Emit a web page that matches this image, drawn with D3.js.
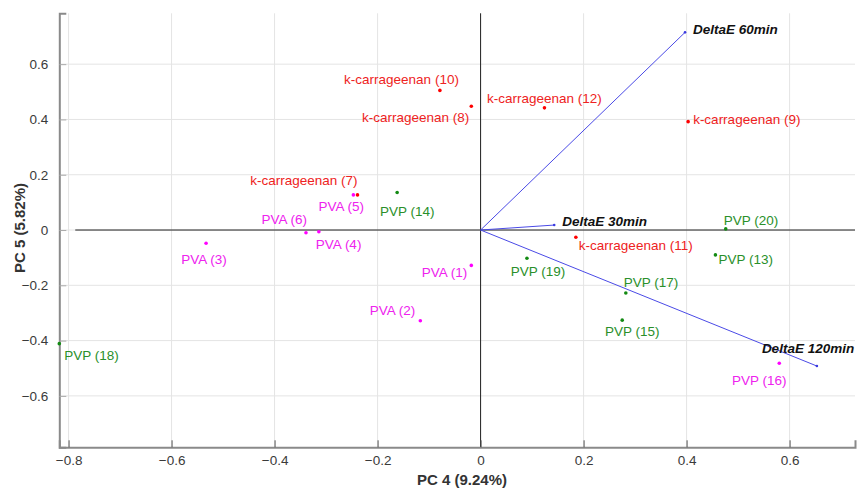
<!DOCTYPE html>
<html>
<head>
<meta charset="utf-8">
<script src="https://cdn.jsdelivr.net/npm/d3@7"></script>
<style>
	body { margin: 0; background: #fff; }
	svg { font-family: "Liberation Sans", Arial, sans-serif; }
</style>
</head>
<body>
<svg id="chart"></svg>
<script>
// samples: name, group, PC4, PC5
var names = ["PVA (1)", "PVA (2)", "PVA (3)", "PVA (4)", "PVA (5)", "PVA (6)",
	"k-carrageenan (7)", "k-carrageenan (8)", "k-carrageenan (9)", "k-carrageenan (10)",
	"k-carrageenan (11)", "k-carrageenan (12)",
	"PVP (13)", "PVP (14)", "PVP (15)", "PVP (16)", "PVP (17)", "PVP (18)", "PVP (19)", "PVP (20)"]
var groups = ["PVA", "PVA", "PVA", "PVA", "PVA", "PVA",
	"kc", "kc", "kc", "kc", "kc", "kc",
	"PVP", "PVP", "PVP", "PVA", "PVP", "PVP", "PVP", "PVP"]
var pc4 = [-0.018, -0.117, -0.533, -0.314, -0.247, -0.339,
	-0.239, -0.018, 0.403, -0.079, 0.185, 0.124,
	0.456, -0.162, 0.275, 0.580, 0.282, -0.818, 0.090, 0.476]
var pc5 = [-0.128, -0.328, -0.048, -0.006, 0.127, -0.010,
	0.127, 0.448, 0.392, 0.505, -0.026, 0.442,
	-0.090, 0.136, -0.326, -0.482, -0.228, -0.411, -0.102, 0.004]

// loadings
var vecNames = ["DeltaE 30min", "DeltaE 60min", "DeltaE 120min"]
var vecX = [0.143, 0.397, 0.653]
var vecY = [0.018, 0.715, -0.492]

var xTicks = [-0.8, -0.6, -0.4, -0.2, 0, 0.2, 0.4, 0.6]
var yTicks = [-0.6, -0.4, -0.2, 0, 0.2, 0.4, 0.6]

// label placement (anchor, dx, dy in px from the dot)
var labelPos = [["end", -4, 7], ["end", -5, -10], ["middle", -2, 16], ["start", -3, 13],
	["middle", -12, 11], ["end", 1, -14], ["end", 0, -15], ["end", -2, 11],
	["start", 5, -2], ["end", 19, -11], ["start", 3, 8], ["middle", 0, -10],
	["start", 3, 4], ["middle", 10, 19], ["middle", 10, 11], ["middle", -20, 17],
	["start", -2, -11], ["start", 5, 12], ["middle", 11, 13], ["start", -2, -9]]
var vecLabelPos = [[8, -4], [8, -3], [-55, -18]]

var colors = {"PVA": "#ff00ff", "kc": "#ff0000", "PVP": "#138a13"}
var textColors = {"PVA": "#ee22ee", "kc": "#ee2222", "PVP": "#2a8f2a"}

var width = 857
var height = 489

var x = d3.scaleLinear()
	.domain([-0.818, 0.727])
	.range([59.3, 855])

var y = d3.scaleLinear()
	.domain([-0.786, 0.784])
	.range([447.3, 13.3])

var svg = d3.select("#chart")
	.attr("width", width)
	.attr("height", height)

// grid
svg.append("g")
	.selectAll("line")
	.data(xTicks)
	.join("line")
	.attr("x1", d => x(d)).attr("x2", d => x(d))
	.attr("y1", y.range()[1]).attr("y2", y.range()[0])
	.attr("stroke", "#e4e4e4")

svg.append("g")
	.selectAll("line")
	.data(yTicks)
	.join("line")
	.attr("x1", x.range()[0]).attr("x2", x.range()[1])
	.attr("y1", d => y(d)).attr("y2", d => y(d))
	.attr("stroke", "#e4e4e4")

// zero lines
svg.append("line")
	.attr("x1", x(-0.787)).attr("x2", x.range()[1])
	.attr("y1", y(0)).attr("y2", y(0))
	.attr("stroke", "#222").attr("stroke-width", 1)
svg.append("line")
	.attr("x1", x(0)).attr("x2", x(0))
	.attr("y1", y.range()[1]).attr("y2", y.range()[0])
	.attr("stroke", "#222").attr("stroke-width", 1)

// axes
var xAxis = g => g
	.attr("transform", `translate(0,${y.range()[0]})`)
	.call(d3.axisBottom(x).tickValues(xTicks).tickSize(-7).tickPadding(8).tickFormat(d3.format("")))
	.call(g => g.select(".domain").attr("stroke", "#8a8a8a").attr("stroke-width", 2))
	.call(g => g.selectAll(".tick line").attr("stroke", "#555"))

var yAxis = g => g
	.attr("transform", `translate(${x.range()[0]},0)`)
	.call(d3.axisLeft(y).tickValues(yTicks).tickSize(-7).tickPadding(11).tickFormat(d3.format("")))
	.call(g => g.select(".domain").attr("stroke", "#8a8a8a").attr("stroke-width", 2))
	.call(g => g.selectAll(".tick line").attr("stroke", "#aaa"))

svg.append("g").call(xAxis)
svg.append("g").call(yAxis)

svg.selectAll(".tick text")
	.attr("font-size", 13.5)
	.attr("font-family", "Liberation Sans, Arial, sans-serif")
	.attr("fill", "#3a3a3a")

// axis titles
svg.append("text")
	.attr("x", 462).attr("y", 485)
	.attr("text-anchor", "middle")
	.attr("font-size", 15).attr("font-weight", "bold").attr("fill", "#333")
	.text("PC 4 (9.24%)")

svg.append("text")
	.attr("transform", "translate(25,228) rotate(-90)")
	.attr("text-anchor", "middle")
	.attr("font-size", 15).attr("font-weight", "bold").attr("fill", "#333")
	.text("PC 5 (5.82%)")

// loading vectors
var vec = vecNames.map((n, i) => ({name: n, x: vecX[i], y: vecY[i], pos: vecLabelPos[i]}))

svg.append("g")
	.selectAll("line")
	.data(vec)
	.join("line")
	.attr("x1", x(0)).attr("y1", y(0))
	.attr("x2", d => x(d.x)).attr("y2", d => y(d.y))
	.attr("stroke", "#4a4ae6").attr("stroke-width", 1)

svg.append("g")
	.selectAll("circle")
	.data(vec)
	.join("circle")
	.attr("cx", d => x(d.x)).attr("cy", d => y(d.y))
	.attr("r", 1.3).attr("fill", "#3a3ae0")

svg.append("g")
	.selectAll("text")
	.data(vec)
	.join("text")
	.attr("x", d => x(d.x) + d.pos[0]).attr("y", d => y(d.y) + d.pos[1])
	.attr("dy", "0.35em")
	.attr("font-size", 13.5).attr("font-weight", "bold").attr("font-style", "italic")
	.attr("fill", "#111")
	.text(d => d.name)

// samples
var samples = names.map((n, i) => ({name: n, group: groups[i], x: pc4[i], y: pc5[i], pos: labelPos[i]}))

svg.append("g")
	.selectAll("circle")
	.data(samples)
	.join("circle")
	.attr("cx", d => x(d.x)).attr("cy", d => y(d.y))
	.attr("r", 1.8)
	.attr("fill", d => colors[d.group])

svg.append("g")
	.selectAll("text")
	.data(samples)
	.join("text")
	.attr("x", d => x(d.x) + d.pos[1]).attr("y", d => y(d.y) + d.pos[2])
	.attr("dy", "0.35em")
	.attr("text-anchor", d => d.pos[0])
	.attr("font-size", 13.5)
	.attr("fill", d => textColors[d.group])
	.text(d => d.name)
</script>
</body>
</html>
